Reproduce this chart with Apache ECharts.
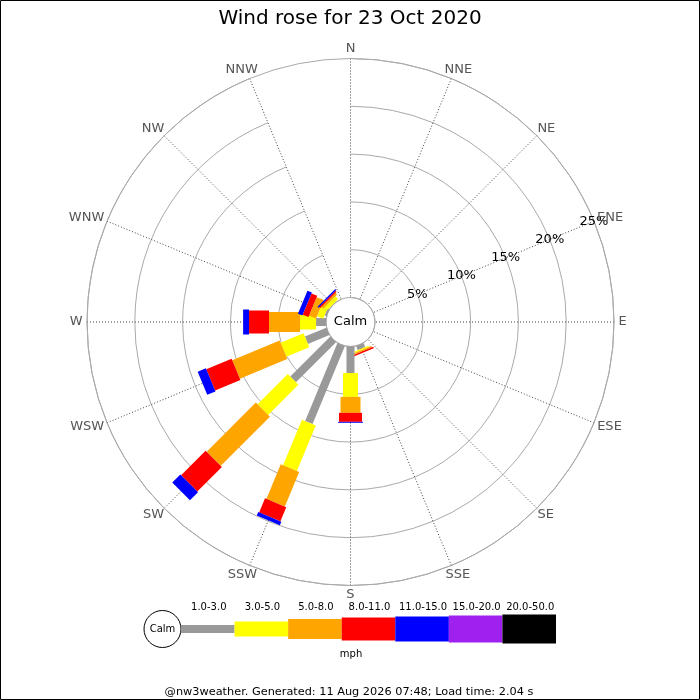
<!DOCTYPE html>
<html>
<head>
<meta charset="utf-8">
<script src="https://cdn.jsdelivr.net/npm/echarts@6/dist/echarts.min.js"></script>
<style>
html,body{margin:0;padding:0;background:#fff;}
#chart{width:700px;height:700px;}
</style>
</head>
<body>
<div id="chart"></div>
<script>
// ---- data ----
const directions = ['N','NNE','NE','ENE','E','ESE','SE','SSE','S','SSW','SW','WSW','W','WNW','NW','NNW'];
const speedBins = ['1.0-3.0','3.0-5.0','5.0-8.0','8.0-11.0','11.0-15.0','15.0-20.0','20.0-50.0'];
const ringTicks = [5, 10, 15, 20, 25];
const ringLabelDirection = 'ENE';
// percentage of time, per direction (N..NNW), per speed bin (mph)
const pct_1_3   = [0,0,0,0,0,0,0,0.45,2.77,8.82,5.93,2.43,1.04,0.20,0.05,0];
const pct_3_5   = [0,0,0,0,0,0,0,0.15,2.50,5.16,4.47,2.60,1.68,0.70,0.40,0];
const pct_5_8   = [0,0,0,0,0,0,0,0.15,1.67,3.92,7.27,5.37,3.24,0.80,0.25,0];
const pct_8_11  = [0,0,0,0,0,0,0,0.15,0.94,1.60,3.63,2.87,2.09,0.65,0.15,0];
const pct_11_15 = [0,0,0,0,0,0,0,0,   0.10,0.40,1.20,0.93,0.62,0.50,0.15,0];
const pct_15_20 = [0,0,0,0,0,0,0,0,0,0,0,0,0,0,0,0];
const pct_20_50 = [0,0,0,0,0,0,0,0,0,0,0,0,0,0,0,0];

// ---- styles ----
const BIN_COLORS = ['#999999','#ffff00','#ffa500','#ff0000','#0000ff','#a020f0','#000000'];
const BIN_WIDTHS = [8, 15, 20, 23, 25, 27, 29];
const FONT = 'DejaVu Sans';
const DIR_FONT = '13px "DejaVu Sans"';

const binSeries = [pct_1_3, pct_3_5, pct_5_8, pct_8_11, pct_11_15, pct_15_20, pct_20_50];
const outerPct = ringTicks[ringTicks.length - 1];
const segments = [];
directions.forEach((d, i) => {
  let acc = 0;
  binSeries.forEach((arr, b) => {
    const v = arr[i];
    if (v > 0) segments.push([acc + v, i, acc, b]);
    acc += v;
  });
});
const ringLabelData = ringTicks.map(v => [v, directions.indexOf(ringLabelDirection)]);
const dirLabelData = directions.map((d, i) => [outerPct, i]);

const measureCtx = document.createElement('canvas').getContext('2d');
measureCtx.font = DIR_FONT;

const chart = echarts.init(document.getElementById('chart'));

// legend graphic
const legendX0 = 181, legendX1 = 556, legendY = 629;
const segW = (legendX1 - legendX0) / speedBins.length;
const legendEls = [
  {type:'circle', shape:{cx:162.5, cy:legendY, r:18.5}, style:{fill:'#fff', stroke:'#000', lineWidth:1}},
  {type:'text', x:162.5, y:legendY, style:{text:'Calm', fill:'#000', font:'10px ' + FONT, align:'center', verticalAlign:'middle'}},
  {type:'text', x:351, y:654, style:{text:'mph', fill:'#000', font:'10px ' + FONT, align:'center', verticalAlign:'middle'}}
];
speedBins.forEach((lab, b) => {
  const x = legendX0 + b * segW;
  legendEls.push({type:'rect', shape:{x:x, y:legendY - BIN_WIDTHS[b]/2, width:segW, height:BIN_WIDTHS[b]}, style:{fill:BIN_COLORS[b]}});
  legendEls.push({type:'text', x:x + segW/2 + 1, y:607, style:{text:lab, fill:'#000', font:'10px ' + FONT, align:'center', verticalAlign:'middle'}});
});

chart.setOption({
  animation: false,
  backgroundColor: '#fff',
  textStyle: {fontFamily: FONT},
  title: {
    text: 'Wind rose for 23 Oct 2020',
    left: 'center', top: 4,
    textStyle: {fontSize: 20, fontWeight: 'normal', color: '#000', fontFamily: FONT}
  },
  polar: {center: [350.5, 322], radius: [24.5, 263.5]},
  angleAxis: {
    type: 'category', data: directions, boundaryGap: false,
    startAngle: 90, clockwise: true,
    axisLine: {show: true, lineStyle: {color: '#aaaaaa', width: 1}},
    axisTick: {show: false},
    axisLabel: {show: false},
    splitLine: {show: true, lineStyle: {color: '#444444', width: 1, type: [1, 2]}}
  },
  radiusAxis: {
    type: 'value', min: 0, max: outerPct, interval: 5,
    axisLine: {show: false}, axisTick: {show: false}, axisLabel: {show: false},
    splitLine: {show: true, lineStyle: {color: '#aaaaaa', width: 1}}
  },
  series: [
    {
      type: 'custom', coordinateSystem: 'polar', data: segments, z: 3,
      renderItem: function (params, api) {
        const end = api.value(0), dir = api.value(1), start = api.value(2), bin = api.value(3);
        const p0 = api.coord([start, dir]);
        const p1 = api.coord([end, dir]);
        const q0 = api.coord([0, dir]);
        const q1 = api.coord([outerPct, dir]);
        let ux = q1[0] - q0[0], uy = q1[1] - q0[1];
        const L = Math.hypot(ux, uy); ux /= L; uy /= L;
        const hw = BIN_WIDTHS[bin] / 2;
        const nx = -uy * hw, ny = ux * hw;
        return {
          type: 'polygon',
          shape: {points: [[p0[0]+nx, p0[1]+ny], [p1[0]+nx, p1[1]+ny], [p1[0]-nx, p1[1]-ny], [p0[0]-nx, p0[1]-ny]]},
          style: {fill: BIN_COLORS[bin]}
        };
      }
    },
    {
      type: 'custom', coordinateSystem: 'polar', data: ringLabelData, z: 4,
      renderItem: function (params, api) {
        const p = api.coord([api.value(0), api.value(1)]);
        return {
          type: 'text', x: p[0], y: p[1],
          style: {text: api.value(0) + '%', fill: '#000', font: '13px ' + FONT, align: 'center', verticalAlign: 'middle'}
        };
      }
    },
    {
      type: 'custom', coordinateSystem: 'polar', data: dirLabelData, z: 4,
      renderItem: function (params, api) {
        const idx = api.value(1);
        const p = api.coord([api.value(0), idx]);
        const q0 = api.coord([0, idx]);
        let ux = p[0] - q0[0], uy = p[1] - q0[1];
        const L = Math.hypot(ux, uy); ux /= L; uy /= L;
        const text = directions[idx];
        const w = measureCtx.measureText(text).width;
        const gap = 4.5, h = 10;
        return {
          type: 'text',
          x: p[0] + ux * (gap + w / 2),
          y: p[1] + uy * (gap + h / 2),
          style: {text: text, fill: '#555555', font: DIR_FONT, align: 'center', verticalAlign: 'middle'}
        };
      }
    }
  ],
  graphic: [
    {type:'rect', shape:{x:0.5, y:0.5, width:699, height:699}, style:{fill:null, stroke:'#000', lineWidth:1}, silent:true},
    {type:'text', x:350.5, y:322, style:{text:'Calm', fill:'#000', font:'13px ' + FONT, align:'center', verticalAlign:'middle'}},
    {type:'text', x:349, y:692, style:{text:'@nw3weather. Generated: 11 Aug 2026 07:48; Load time: 2.04 s', fill:'#000', font:'11.3px ' + FONT, align:'center', verticalAlign:'middle'}}
  ].concat(legendEls)
});
</script>
</body>
</html>
